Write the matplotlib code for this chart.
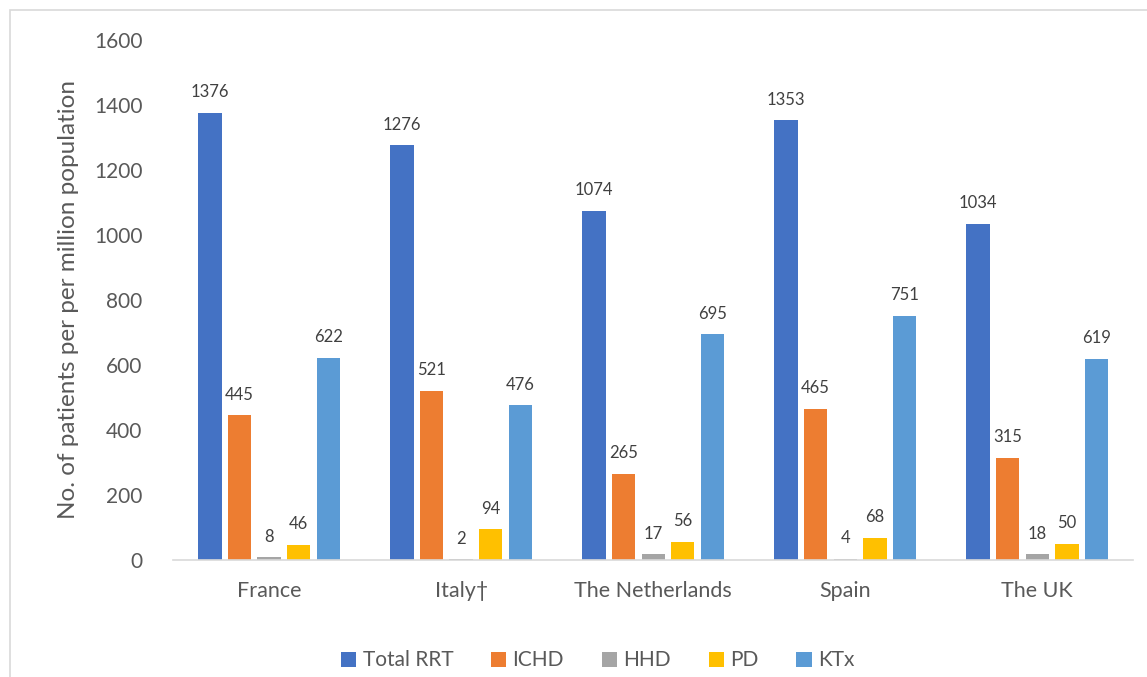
import numpy as np
import matplotlib.pyplot as plt
from matplotlib.patches import Rectangle

countries = ["France", "Italy\u2020", "The Netherlands", "Spain", "The UK"]
series = ["Total RRT", "ICHD", "HHD", "PD", "KTx"]
total_rrt = [1376, 1276, 1074, 1353, 1034]
ichd = [445, 521, 265, 465, 315]
hhd = [8, 2, 17, 4, 18]
pd_ = [46, 94, 56, 68, 50]
ktx = [622, 476, 695, 751, 619]
colors = ["#4472C4", "#ED7D31", "#A5A5A5", "#FFC000", "#5B9BD5"]

plt.rcParams['font.family'] = ['Lato', 'DejaVu Sans']
txt = "#595959"

fig = plt.figure(figsize=(11.47, 6.77), dpi=100)
ax = fig.add_axes([0.151, 0.173, 0.837, 0.768])

x = np.arange(len(countries))
slot = 0.154
bw = 0.122
values = [total_rrt, ichd, hhd, pd_, ktx]
for i, (name, vals) in enumerate(zip(series, values)):
    pos = x + (i - 2) * slot
    bars = ax.bar(pos, vals, width=bw, color=colors[i], label=name)
    ax.bar_label(bars, labels=[str(v) for v in vals], padding=9, fontsize=12, color="#404040")

ax.set_xlim(-0.5, len(countries) - 0.5)
ax.set_ylim(0, 1600)
ax.set_yticks(range(0, 1601, 200))
ax.set_xticks(x)
ax.set_xticklabels(countries)
ax.tick_params(axis='y', length=0, labelsize=15, colors=txt, pad=22)
ax.tick_params(axis='x', length=0, labelsize=15.5, colors=txt, pad=15)
for s in ["top", "right", "left"]:
    ax.spines[s].set_visible(False)
ax.spines["bottom"].set_color("#D9D9D9")
ax.spines["bottom"].set_linewidth(1.2)
ax.set_ylabel("No. of patients per per million population", fontsize=17.5, color=txt, labelpad=11)

fig.legend(loc="lower center", bbox_to_anchor=(0.521, -0.018), ncol=5, frameon=False,
           fontsize=15, labelcolor=txt, handlelength=0.75, handleheight=0.75,
           handletextpad=0.3, columnspacing=1.8)

fig.patches.append(Rectangle((10 / 1147, -0.05), 1.1, 1 - 10 / 677 + 0.05,
                             transform=fig.transFigure, fill=False,
                             edgecolor="#D9D9D9", linewidth=1.2, zorder=-1))

fig.savefig("out.png", dpi=100)
